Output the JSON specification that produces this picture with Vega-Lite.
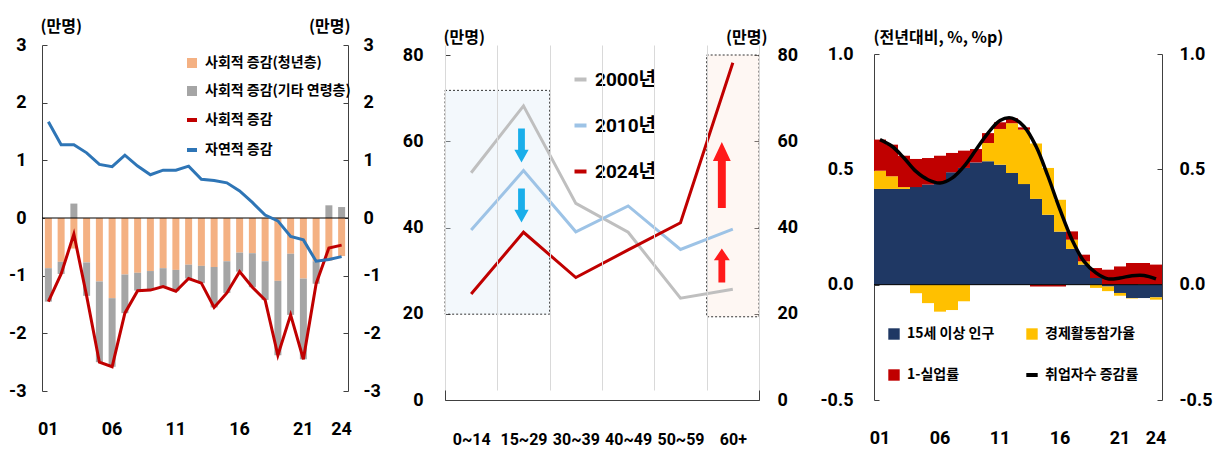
{
  "$schema": "https://vega.github.io/schema/vega-lite/v6.json",
  "padding": {"left": 8, "top": 18, "right": 4, "bottom": 2},
  "spacing": 21,
  "config": {
    "view": {"stroke": null},
    "font": "Noto Sans CJK KR",
    "axis": {
      "labelFont": "Roboto",
      "labelFontSize": 18,
      "labelFontWeight": "bold",
      "labelColor": "#000000",
      "titleFont": "Noto Sans CJK KR",
      "titleFontSize": 16,
      "titleFontWeight": "bold",
      "titleColor": "#000000",
      "domainColor": "#404040",
      "tickColor": "#404040",
      "grid": false
    },
    "legend": {
      "labelFont": "Noto Sans CJK KR",
      "labelFontSize": 14,
      "labelFontWeight": "bold",
      "labelColor": "#000000"
    }
  },
  "resolve": {
    "scale": {"color": "independent", "x": "independent", "y": "independent"},
    "legend": {"color": "independent"}
  },
  "datasets": {
    "population": [
      {"year": "01", "series": "사회적 증감(청년층)", "value": -0.87}, {"year": "01", "series": "사회적 증감(기타 연령층)", "value": -0.58}, {"year": "01", "series": "사회적 증감", "value": -1.45}, {"year": "01", "series": "자연적 증감", "value": 1.67},
      {"year": "02", "series": "사회적 증감(청년층)", "value": -0.76}, {"year": "02", "series": "사회적 증감(기타 연령층)", "value": -0.21}, {"year": "02", "series": "사회적 증감", "value": -0.97}, {"year": "02", "series": "자연적 증감", "value": 1.27},
      {"year": "03", "series": "사회적 증감(청년층)", "value": -0.53}, {"year": "03", "series": "사회적 증감(기타 연령층)", "value": 0.25}, {"year": "03", "series": "사회적 증감", "value": -0.28}, {"year": "03", "series": "자연적 증감", "value": 1.27},
      {"year": "04", "series": "사회적 증감(청년층)", "value": -0.77}, {"year": "04", "series": "사회적 증감(기타 연령층)", "value": -0.58}, {"year": "04", "series": "사회적 증감", "value": -1.35}, {"year": "04", "series": "자연적 증감", "value": 1.13},
      {"year": "05", "series": "사회적 증감(청년층)", "value": -1.10}, {"year": "05", "series": "사회적 증감(기타 연령층)", "value": -1.40}, {"year": "05", "series": "사회적 증감", "value": -2.50}, {"year": "05", "series": "자연적 증감", "value": 0.93},
      {"year": "06", "series": "사회적 증감(청년층)", "value": -1.39}, {"year": "06", "series": "사회적 증감(기타 연령층)", "value": -1.19}, {"year": "06", "series": "사회적 증감", "value": -2.58}, {"year": "06", "series": "자연적 증감", "value": 0.89},
      {"year": "07", "series": "사회적 증감(청년층)", "value": -0.98}, {"year": "07", "series": "사회적 증감(기타 연령층)", "value": -0.67}, {"year": "07", "series": "사회적 증감", "value": -1.65}, {"year": "07", "series": "자연적 증감", "value": 1.09},
      {"year": "08", "series": "사회적 증감(청년층)", "value": -0.95}, {"year": "08", "series": "사회적 증감(기타 연령층)", "value": -0.31}, {"year": "08", "series": "사회적 증감", "value": -1.26}, {"year": "08", "series": "자연적 증감", "value": 0.90},
      {"year": "09", "series": "사회적 증감(청년층)", "value": -0.92}, {"year": "09", "series": "사회적 증감(기타 연령층)", "value": -0.33}, {"year": "09", "series": "사회적 증감", "value": -1.25}, {"year": "09", "series": "자연적 증감", "value": 0.75},
      {"year": "10", "series": "사회적 증감(청년층)", "value": -0.87}, {"year": "10", "series": "사회적 증감(기타 연령층)", "value": -0.32}, {"year": "10", "series": "사회적 증감", "value": -1.19}, {"year": "10", "series": "자연적 증감", "value": 0.83},
      {"year": "11", "series": "사회적 증감(청년층)", "value": -0.90}, {"year": "11", "series": "사회적 증감(기타 연령층)", "value": -0.37}, {"year": "11", "series": "사회적 증감", "value": -1.27}, {"year": "11", "series": "자연적 증감", "value": 0.83},
      {"year": "12", "series": "사회적 증감(청년층)", "value": -0.81}, {"year": "12", "series": "사회적 증감(기타 연령층)", "value": -0.24}, {"year": "12", "series": "사회적 증감", "value": -1.05}, {"year": "12", "series": "자연적 증감", "value": 0.90},
      {"year": "13", "series": "사회적 증감(청년층)", "value": -0.83}, {"year": "13", "series": "사회적 증감(기타 연령층)", "value": -0.30}, {"year": "13", "series": "사회적 증감", "value": -1.13}, {"year": "13", "series": "자연적 증감", "value": 0.67},
      {"year": "14", "series": "사회적 증감(청년층)", "value": -0.85}, {"year": "14", "series": "사회적 증감(기타 연령층)", "value": -0.70}, {"year": "14", "series": "사회적 증감", "value": -1.55}, {"year": "14", "series": "자연적 증감", "value": 0.65},
      {"year": "15", "series": "사회적 증감(청년층)", "value": -0.75}, {"year": "15", "series": "사회적 증감(기타 연령층)", "value": -0.55}, {"year": "15", "series": "사회적 증감", "value": -1.30}, {"year": "15", "series": "자연적 증감", "value": 0.61},
      {"year": "16", "series": "사회적 증감(청년층)", "value": -0.60}, {"year": "16", "series": "사회적 증감(기타 연령층)", "value": -0.33}, {"year": "16", "series": "사회적 증감", "value": -0.93}, {"year": "16", "series": "자연적 증감", "value": 0.47},
      {"year": "17", "series": "사회적 증감(청년층)", "value": -0.61}, {"year": "17", "series": "사회적 증감(기타 연령층)", "value": -0.59}, {"year": "17", "series": "사회적 증감", "value": -1.20}, {"year": "17", "series": "자연적 증감", "value": 0.27},
      {"year": "18", "series": "사회적 증감(청년층)", "value": -0.75}, {"year": "18", "series": "사회적 증감(기타 연령층)", "value": -0.67}, {"year": "18", "series": "사회적 증감", "value": -1.42}, {"year": "18", "series": "자연적 증감", "value": 0.05},
      {"year": "19", "series": "사회적 증감(청년층)", "value": -1.09}, {"year": "19", "series": "사회적 증감(기타 연령층)", "value": -1.29}, {"year": "19", "series": "사회적 증감", "value": -2.38}, {"year": "19", "series": "자연적 증감", "value": -0.05},
      {"year": "20", "series": "사회적 증감(청년층)", "value": -0.62}, {"year": "20", "series": "사회적 증감(기타 연령층)", "value": -1.06}, {"year": "20", "series": "사회적 증감", "value": -1.68}, {"year": "20", "series": "자연적 증감", "value": -0.32},
      {"year": "21", "series": "사회적 증감(청년층)", "value": -1.05}, {"year": "21", "series": "사회적 증감(기타 연령층)", "value": -1.40}, {"year": "21", "series": "사회적 증감", "value": -2.45}, {"year": "21", "series": "자연적 증감", "value": -0.38},
      {"year": "22", "series": "사회적 증감(청년층)", "value": -0.75}, {"year": "22", "series": "사회적 증감(기타 연령층)", "value": -0.39}, {"year": "22", "series": "사회적 증감", "value": -1.14}, {"year": "22", "series": "자연적 증감", "value": -0.75},
      {"year": "23", "series": "사회적 증감(청년층)", "value": -0.74}, {"year": "23", "series": "사회적 증감(기타 연령층)", "value": 0.22}, {"year": "23", "series": "사회적 증감", "value": -0.52}, {"year": "23", "series": "자연적 증감", "value": -0.72},
      {"year": "24", "series": "사회적 증감(청년층)", "value": -0.66}, {"year": "24", "series": "사회적 증감(기타 연령층)", "value": 0.19}, {"year": "24", "series": "사회적 증감", "value": -0.47}, {"year": "24", "series": "자연적 증감", "value": -0.67}
    ],
    "ageGroups": [
      {"age": "0~14", "year": "2000년", "value": 52.7}, {"age": "15~29", "year": "2000년", "value": 68.2}, {"age": "30~39", "year": "2000년", "value": 45.6}, {"age": "40~49", "year": "2000년", "value": 38.9}, {"age": "50~59", "year": "2000년", "value": 23.6}, {"age": "60+", "year": "2000년", "value": 25.7},
      {"age": "0~14", "year": "2010년", "value": 39.4}, {"age": "15~29", "year": "2010년", "value": 53.2}, {"age": "30~39", "year": "2010년", "value": 39.0}, {"age": "40~49", "year": "2010년", "value": 45.0}, {"age": "50~59", "year": "2010년", "value": 34.9}, {"age": "60+", "year": "2010년", "value": 39.6},
      {"age": "0~14", "year": "2024년", "value": 24.6}, {"age": "15~29", "year": "2024년", "value": 38.9}, {"age": "30~39", "year": "2024년", "value": 28.4}, {"age": "40~49", "year": "2024년", "value": 34.8}, {"age": "50~59", "year": "2024년", "value": 41.1}, {"age": "60+", "year": "2024년", "value": 78.2}
    ],
    "employment": [
      {"year": "01", "series": "15세 이상 인구", "value": 0.415}, {"year": "01", "series": "경제활동참가율", "value": 0.079}, {"year": "01", "series": "1-실업률", "value": 0.135}, {"year": "01", "series": "취업자수 증감률", "value": 0.629},
      {"year": "02", "series": "15세 이상 인구", "value": 0.415}, {"year": "02", "series": "경제활동참가율", "value": 0.055}, {"year": "02", "series": "1-실업률", "value": 0.137}, {"year": "02", "series": "취업자수 증감률", "value": 0.600},
      {"year": "03", "series": "15세 이상 인구", "value": 0.415}, {"year": "03", "series": "경제활동참가율", "value": 0.008}, {"year": "03", "series": "1-실업률", "value": 0.136}, {"year": "03", "series": "취업자수 증감률", "value": 0.549},
      {"year": "04", "series": "15세 이상 인구", "value": 0.423}, {"year": "04", "series": "경제활동참가율", "value": -0.037}, {"year": "04", "series": "1-실업률", "value": 0.122}, {"year": "04", "series": "취업자수 증감률", "value": 0.491},
      {"year": "05", "series": "15세 이상 인구", "value": 0.434}, {"year": "05", "series": "경제활동참가율", "value": -0.080}, {"year": "05", "series": "1-실업률", "value": 0.115}, {"year": "05", "series": "취업자수 증감률", "value": 0.455},
      {"year": "06", "series": "15세 이상 인구", "value": 0.441}, {"year": "06", "series": "경제활동참가율", "value": -0.117}, {"year": "06", "series": "1-실업률", "value": 0.118}, {"year": "06", "series": "취업자수 증감률", "value": 0.441},
      {"year": "07", "series": "15세 이상 인구", "value": 0.487}, {"year": "07", "series": "경제활동참가율", "value": -0.110}, {"year": "07", "series": "1-실업률", "value": 0.084}, {"year": "07", "series": "취업자수 증감률", "value": 0.462},
      {"year": "08", "series": "15세 이상 인구", "value": 0.506}, {"year": "08", "series": "경제활동참가율", "value": -0.072}, {"year": "08", "series": "1-실업률", "value": 0.075}, {"year": "08", "series": "취업자수 증감률", "value": 0.513},
      {"year": "09", "series": "15세 이상 인구", "value": 0.530}, {"year": "09", "series": "경제활동참가율", "value": 0.000}, {"year": "09", "series": "1-실업률", "value": 0.058}, {"year": "09", "series": "취업자수 증감률", "value": 0.585},
      {"year": "10", "series": "15세 이상 인구", "value": 0.535}, {"year": "10", "series": "경제활동참가율", "value": 0.079}, {"year": "10", "series": "1-실업률", "value": 0.043}, {"year": "10", "series": "취업자수 증감률", "value": 0.657},
      {"year": "11", "series": "15세 이상 인구", "value": 0.520}, {"year": "11", "series": "경제활동참가율", "value": 0.155}, {"year": "11", "series": "1-실업률", "value": 0.029}, {"year": "11", "series": "취업자수 증감률", "value": 0.712},
      {"year": "12", "series": "15세 이상 인구", "value": 0.484}, {"year": "12", "series": "경제활동참가율", "value": 0.216}, {"year": "12", "series": "1-실업률", "value": 0.022}, {"year": "12", "series": "취업자수 증감률", "value": 0.722},
      {"year": "13", "series": "15세 이상 인구", "value": 0.436}, {"year": "13", "series": "경제활동참가율", "value": 0.236}, {"year": "13", "series": "1-실업률", "value": 0.010}, {"year": "13", "series": "취업자수 증감률", "value": 0.686},
      {"year": "14", "series": "15세 이상 인구", "value": 0.372}, {"year": "14", "series": "경제활동참가율", "value": 0.240}, {"year": "14", "series": "1-실업률", "value": -0.008}, {"year": "14", "series": "취업자수 증감률", "value": 0.600},
      {"year": "15", "series": "15세 이상 인구", "value": 0.303}, {"year": "15", "series": "경제활동참가율", "value": 0.203}, {"year": "15", "series": "1-실업률", "value": -0.008}, {"year": "15", "series": "취업자수 증감률", "value": 0.470},
      {"year": "16", "series": "15세 이상 인구", "value": 0.230}, {"year": "16", "series": "경제활동참가율", "value": 0.138}, {"year": "16", "series": "1-실업률", "value": -0.008}, {"year": "16", "series": "취업자수 증감률", "value": 0.325},
      {"year": "17", "series": "15세 이상 인구", "value": 0.155}, {"year": "17", "series": "경제활동참가율", "value": 0.040}, {"year": "17", "series": "1-실업률", "value": 0.036}, {"year": "17", "series": "취업자수 증감률", "value": 0.195},
      {"year": "18", "series": "15세 이상 인구", "value": 0.087}, {"year": "18", "series": "경제활동참가율", "value": 0.014}, {"year": "18", "series": "1-실업률", "value": 0.029}, {"year": "18", "series": "취업자수 증감률", "value": 0.101},
      {"year": "19", "series": "15세 이상 인구", "value": 0.029}, {"year": "19", "series": "경제활동참가율", "value": -0.014}, {"year": "19", "series": "1-실업률", "value": 0.043}, {"year": "19", "series": "취업자수 증감률", "value": 0.051},
      {"year": "20", "series": "15세 이상 인구", "value": -0.008}, {"year": "20", "series": "경제활동참가율", "value": -0.020}, {"year": "20", "series": "1-실업률", "value": 0.065}, {"year": "20", "series": "취업자수 증감률", "value": 0.025},
      {"year": "21", "series": "15세 이상 인구", "value": -0.036}, {"year": "21", "series": "경제활동참가율", "value": -0.012}, {"year": "21", "series": "1-실업률", "value": 0.079}, {"year": "21", "series": "취업자수 증감률", "value": 0.029},
      {"year": "22", "series": "15세 이상 인구", "value": -0.058}, {"year": "22", "series": "경제활동참가율", "value": -0.002}, {"year": "22", "series": "1-실업률", "value": 0.094}, {"year": "22", "series": "취업자수 증감률", "value": 0.039},
      {"year": "23", "series": "15세 이상 인구", "value": -0.058}, {"year": "23", "series": "경제활동참가율", "value": 0.002}, {"year": "23", "series": "1-실업률", "value": 0.092}, {"year": "23", "series": "취업자수 증감률", "value": 0.040},
      {"year": "24", "series": "15세 이상 인구", "value": -0.055}, {"year": "24", "series": "경제활동참가율", "value": -0.010}, {"year": "24", "series": "1-실업률", "value": 0.087}, {"year": "24", "series": "취업자수 증감률", "value": 0.025}
    ]
  },
  "hconcat": [
    {
      "width": 306,
      "height": 355,
      "data": {"name": "population"},
      "layer": [
        {
          "transform": [
            {"filter": "datum.series === '사회적 증감(청년층)' || datum.series === '사회적 증감(기타 연령층)'"},
            {"calculate": "indexof(['사회적 증감(청년층)', '사회적 증감(기타 연령층)'], datum.series)", "as": "stackOrder"}
          ],
          "mark": {"type": "bar", "size": 7},
          "encoding": {
            "x": {
              "field": "year", "type": "ordinal",
              "scale": {"paddingInner": 0, "paddingOuter": 0},
              "axis": {"title": null, "values": ["01", "06", "11", "16", "21", "24"], "labelAngle": 0, "domain": false, "ticks": false, "labelPadding": 20}
            },
            "y": {
              "field": "value", "type": "quantitative", "stack": "zero",
              "scale": {"domain": [-3, 3], "range": [346, 0], "nice": false, "zero": false},
              "axis": {"orient": "left", "values": [-3, -2, -1, 0, 1, 2, 3], "labelExpr": "datum.value", "tickSize": -5, "labelPadding": 21,
                       "title": "(만명)", "titleAngle": 0, "titleX": -2, "titleY": -19, "titleAlign": "left", "titleBaseline": "middle"}
            },
            "color": {
              "field": "series", "type": "nominal",
              "scale": {"domain": ["사회적 증감(청년층)", "사회적 증감(기타 연령층)", "사회적 증감", "자연적 증감"], "range": ["#F4B183", "#A5A5A5", "#C00000", "#2E75B6"]},
              "legend": {
                "title": null, "orient": "none", "legendX": 143, "legendY": 11, "symbolSize": 100, "rowPadding": 14, "labelOffset": 6,
                "encode": {"symbols": {"update": {
                  "shape": {"signal": "indexof(['사회적 증감', '자연적 증감'], datum.value) >= 0 ? 'stroke' : 'square'"},
                  "fill": {"signal": "indexof(['사회적 증감', '자연적 증감'], datum.value) >= 0 ? 'transparent' : ({'사회적 증감(청년층)': '#F4B183', '사회적 증감(기타 연령층)': '#A5A5A5'})[datum.value]"},
                  "stroke": {"signal": "indexof(['사회적 증감', '자연적 증감'], datum.value) >= 0 ? ({'사회적 증감': '#C00000', '자연적 증감': '#2E75B6'})[datum.value] : 'transparent'"},
                  "strokeWidth": {"signal": "indexof(['사회적 증감', '자연적 증감'], datum.value) >= 0 ? 4 : 0"},
                  "opacity": {"value": 1}
                }}}
              }
            },
            "order": {"field": "stackOrder"}
          }
        },
        {
          "data": {"values": [{}]},
          "mark": {"type": "rule", "color": "#000000", "strokeWidth": 1},
          "encoding": {"y": {"datum": 0, "type": "quantitative", "axis": null}}
        },
        {
          "transform": [{"filter": "datum.series === '사회적 증감' || datum.series === '자연적 증감'"}],
          "mark": {"type": "line", "strokeWidth": 3},
          "encoding": {
            "x": {"field": "year", "type": "ordinal"},
            "y": {
              "field": "value", "type": "quantitative",
              "axis": {"orient": "right", "values": [-3, -2, -1, 0, 1, 2, 3], "labelExpr": "datum.value", "tickSize": -5, "labelPadding": 20,
                       "title": "(만명)", "titleAngle": 0, "titleX": 2, "titleY": -19, "titleAlign": "right", "titleBaseline": "middle"}
            },
            "color": {"field": "series", "type": "nominal"}
          }
        }
      ],
      "resolve": {"axis": {"y": "independent"}}
    },
    {
      "spacing": 22,
      "resolve": {
        "scale": {"color": "independent", "x": "independent", "y": "independent"},
        "legend": {"color": "independent"}
      },
      "hconcat": [
        {
          "width": 314,
          "height": 355,
          "layer": [
            {
              "data": {"values": [{"from": "0~14", "to": "15~29", "low": 19.9, "high": 71.8}]},
              "mark": {"type": "rect", "fill": "#DDEBF7", "fillOpacity": 0.35, "stroke": "#333333", "strokeWidth": 1, "strokeDash": [2, 2]},
              "encoding": {
                "x": {
                  "field": "from", "type": "nominal", "bandPosition": 0,
                  "scale": {"domain": ["0~14", "15~29", "30~39", "40~49", "50~59", "60+"], "paddingInner": 0, "paddingOuter": 0},
                  "axis": {"title": null, "labelAngle": 0, "ticks": false, "tickBand": "extent", "grid": true, "gridColor": "#D9D9D9", "domainColor": "#404040", "labelPadding": 31, "labelFontSize": 16}
                },
                "x2": {"field": "to", "bandPosition": 1},
                "y": {
                  "field": "low", "type": "quantitative",
                  "scale": {"domain": [0, 80], "range": [355, 10], "nice": false},
                  "axis": {"orient": "left", "values": [0, 20, 40, 60, 80], "tickSize": -5, "labelPadding": 27,
                           "title": "(만명)", "titleAngle": 0, "titleX": -2, "titleY": -8, "titleAlign": "left", "titleBaseline": "middle"}
                },
                "y2": {"field": "high"}
              }
            },
            {
              "data": {"values": [{"from": "60+", "to": "60+", "low": 19.3, "high": 80}]},
              "mark": {"type": "rect", "fill": "#FBE5D6", "fillOpacity": 0.3, "stroke": "#333333", "strokeWidth": 1, "strokeDash": [2, 2]},
              "encoding": {
                "x": {"field": "from", "type": "nominal", "bandPosition": 0},
                "x2": {"field": "to", "bandPosition": 1},
                "y": {"field": "low", "type": "quantitative", "axis": null},
                "y2": {"field": "high"}
              }
            },
            {
              "data": {"name": "ageGroups"},
              "mark": {"type": "line", "strokeWidth": 3},
              "encoding": {
                "x": {"field": "age", "type": "nominal"},
                "y": {
                  "field": "value", "type": "quantitative",
                  "axis": {"orient": "right", "values": [0, 20, 40, 60, 80], "tickSize": -5, "labelPadding": 23,
                           "title": "(만명)", "titleAngle": 0, "titleX": 8, "titleY": -8, "titleAlign": "right", "titleBaseline": "middle"}
                },
                "color": {
                  "field": "year", "type": "nominal",
                  "scale": {"domain": ["2000년", "2010년", "2024년"], "range": ["#BFBFBF", "#9DC3E6", "#C00000"]},
                  "legend": {
                    "title": null, "orient": "none", "legendX": 126, "legendY": 25, "symbolType": "stroke", "symbolSize": 144, "symbolStrokeWidth": 4,
                    "labelFont": "Roboto, Noto Sans CJK KR", "labelFontSize": 19, "rowPadding": 26, "labelOffset": 5
                  }
                }
              }
            },
            {
              "data": {"values": [{"age": "15~29", "mid": 59.0}, {"age": "15~29", "mid": 45.1}]},
              "mark": {"type": "point", "filled": true, "opacity": 1, "color": "#1AAEEA", "size": 1156, "xOffset": -2,
                       "shape": "M-0.2,-1L0.2,-1L0.2,0.25L0.42,0.25L0,1L-0.42,0.25L-0.2,0.25Z"},
              "encoding": {"x": {"field": "age", "type": "nominal"}, "y": {"field": "mid", "type": "quantitative", "axis": null}}
            },
            {
              "data": {"values": [{"age": "60+", "mid": 52.2}]},
              "mark": {"type": "point", "filled": true, "opacity": 1, "color": "#FF1A1A", "size": 4356, "xOffset": -11,
                       "shape": "M0,-1L0.27,-0.42L0.12,-0.42L0.12,1L-0.12,1L-0.12,-0.42L-0.27,-0.42Z"},
              "encoding": {"x": {"field": "age", "type": "nominal"}, "y": {"field": "mid", "type": "quantitative", "axis": null}}
            },
            {
              "data": {"values": [{"age": "60+", "mid": 31.2}]},
              "mark": {"type": "point", "filled": true, "opacity": 1, "color": "#FF1A1A", "size": 1156, "xOffset": -11,
                       "shape": "M0,-1L0.47,-0.3L0.2,-0.3L0.2,1L-0.2,1L-0.2,-0.3L-0.47,-0.3Z"},
              "encoding": {"x": {"field": "age", "type": "nominal"}, "y": {"field": "mid", "type": "quantitative", "axis": null}}
            }
          ],
          "resolve": {"axis": {"y": "independent"}}
        },
        {
          "width": 288,
          "height": 355,
          "data": {"name": "employment"},
          "layer": [
            {
              "transform": [
                {"filter": "datum.series !== '취업자수 증감률'"},
                {"calculate": "indexof(['15세 이상 인구', '경제활동참가율', '1-실업률'], datum.series)", "as": "stackOrder"}
              ],
              "mark": {"type": "bar"},
              "encoding": {
                "x": {
                  "field": "year", "type": "ordinal",
                  "scale": {"paddingInner": 0, "paddingOuter": 0},
                  "axis": {"title": null, "values": ["01", "06", "11", "16", "21", "24"], "labelAngle": 0, "domain": false, "ticks": false, "labelPadding": 29}
                },
                "y": {
                  "field": "value", "type": "quantitative", "stack": "zero",
                  "scale": {"domain": [-0.5, 1.0], "range": [355, 9], "nice": false, "zero": false},
                  "axis": {"orient": "left", "values": [-0.5, 0, 0.5, 1.0], "labelExpr": "replace(format(datum.value, '.1f'), '−', '-')", "tickSize": -5, "labelPadding": 26,
                           "title": "(전년대비, %, %p)", "titleAngle": 0, "titleX": -1, "titleY": -8, "titleAlign": "left", "titleBaseline": "middle"}
                },
                "color": {
                  "field": "series", "type": "nominal",
                  "scale": {"domain": ["15세 이상 인구", "1-실업률", "경제활동참가율", "취업자수 증감률"], "range": ["#1F3864", "#C00000", "#FFC000", "#000000"]},
                  "legend": {
                    "title": null, "orient": "none", "legendX": 13, "legendY": 282, "columns": 2, "symbolSize": 130, "rowPadding": 26, "columnPadding": 23, "labelOffset": 6,
                    "encode": {"symbols": {"update": {
                      "shape": {"signal": "datum.value === '취업자수 증감률' ? 'stroke' : 'square'"},
                      "fill": {"signal": "datum.value === '취업자수 증감률' ? 'transparent' : ({'15세 이상 인구': '#1F3864', '경제활동참가율': '#FFC000', '1-실업률': '#C00000'})[datum.value]"},
                      "stroke": {"signal": "datum.value === '취업자수 증감률' ? '#000000' : 'transparent'"},
                      "strokeWidth": {"signal": "datum.value === '취업자수 증감률' ? 4 : 0"},
                      "opacity": {"value": 1}
                    }}}
                  }
                },
                "order": {"field": "stackOrder"}
              }
            },
            {
              "data": {"values": [{}]},
              "mark": {"type": "rule", "color": "#000000", "strokeWidth": 1},
              "encoding": {"y": {"datum": 0, "type": "quantitative", "axis": null}}
            },
            {
              "transform": [{"filter": "datum.series === '취업자수 증감률'"}],
              "mark": {"type": "line", "strokeWidth": 3.5, "interpolate": "catmull-rom"},
              "encoding": {
                "x": {"field": "year", "type": "ordinal"},
                "y": {
                  "field": "value", "type": "quantitative",
                  "axis": {"orient": "right", "values": [-0.5, 0, 0.5, 1.0], "labelExpr": "replace(format(datum.value, '.1f'), '−', '-')", "tickSize": -5, "labelPadding": 22, "title": null}
                },
                "color": {"field": "series", "type": "nominal"}
              }
            }
          ],
          "resolve": {"axis": {"y": "independent"}}
        }
      ]
    }
  ]
}
